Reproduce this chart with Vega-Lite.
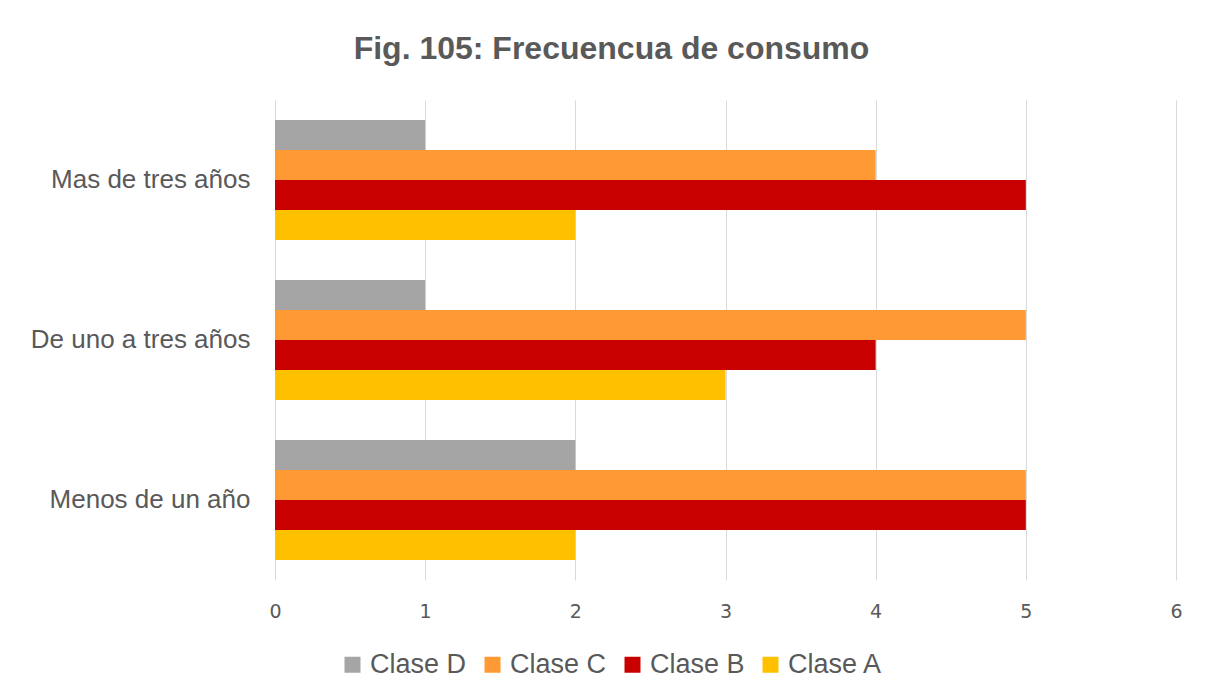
{
  "$schema": "https://vega.github.io/schema/vega-lite/v6.json",
  "width": 901,
  "height": 480,
  "autosize": {"type": "none"},
  "padding": {"left": 275, "top": 100, "right": 32, "bottom": 115},
  "background": "white",
  "title": {
    "text": "Fig. 105: Frecuencua de consumo",
    "fontSize": 32,
    "fontWeight": "bold",
    "font": "Liberation Sans",
    "color": "#595959",
    "anchor": "middle",
    "dx": -114,
    "offset": 34
  },
  "data": {
    "values": [
      {"periodo": "Mas de tres años", "clase": "Clase D", "valor": 1},
      {"periodo": "Mas de tres años", "clase": "Clase C", "valor": 4},
      {"periodo": "Mas de tres años", "clase": "Clase B", "valor": 5},
      {"periodo": "Mas de tres años", "clase": "Clase A", "valor": 2},
      {"periodo": "De uno a tres años", "clase": "Clase D", "valor": 1},
      {"periodo": "De uno a tres años", "clase": "Clase C", "valor": 5},
      {"periodo": "De uno a tres años", "clase": "Clase B", "valor": 4},
      {"periodo": "De uno a tres años", "clase": "Clase A", "valor": 3},
      {"periodo": "Menos de un año", "clase": "Clase D", "valor": 2},
      {"periodo": "Menos de un año", "clase": "Clase C", "valor": 5},
      {"periodo": "Menos de un año", "clase": "Clase B", "valor": 5},
      {"periodo": "Menos de un año", "clase": "Clase A", "valor": 2}
    ]
  },
  "mark": {"type": "bar"},
  "encoding": {
    "y": {
      "field": "periodo",
      "type": "nominal",
      "sort": ["Mas de tres años", "De uno a tres años", "Menos de un año"],
      "scale": {"paddingInner": 0.25, "paddingOuter": 0.125},
      "axis": {
        "title": null,
        "domain": false,
        "ticks": false,
        "labelFontSize": 26,
        "labelFont": "Liberation Sans",
        "labelColor": "#595959",
        "labelPadding": 25,
        "labelLimit": 0
      }
    },
    "yOffset": {
      "field": "clase",
      "type": "nominal",
      "sort": ["Clase D", "Clase C", "Clase B", "Clase A"],
      "scale": {"paddingInner": 0, "paddingOuter": 0}
    },
    "x": {
      "field": "valor",
      "type": "quantitative",
      "scale": {"domain": [0, 6], "nice": false},
      "axis": {
        "title": null,
        "domain": false,
        "ticks": false,
        "values": [0, 1, 2, 3, 4, 5, 6],
        "grid": true,
        "gridColor": "#D9D9D9",
        "gridWidth": 1,
        "labelFontSize": 19,
        "labelFont": "DejaVu Sans",
        "labelColor": "#595959",
        "labelPadding": 22,
        "labelFlush": false
      }
    },
    "color": {
      "field": "clase",
      "type": "nominal",
      "scale": {
        "domain": ["Clase D", "Clase C", "Clase B", "Clase A"],
        "range": ["#A5A5A5", "#FF9933", "#C80000", "#FFC000"]
      },
      "legend": {
        "title": null,
        "orient": "none",
        "direction": "horizontal",
        "legendX": 64,
        "legendY": 551,
        "symbolType": "square",
        "symbolSize": 256,
        "symbolStrokeWidth": 0,
        "labelFontSize": 27,
        "labelFont": "Liberation Sans",
        "labelColor": "#595959",
        "labelOffset": 4,
        "labelLimit": 0,
        "columnPadding": 12
      }
    }
  },
  "config": {"view": {"stroke": null}}
}
